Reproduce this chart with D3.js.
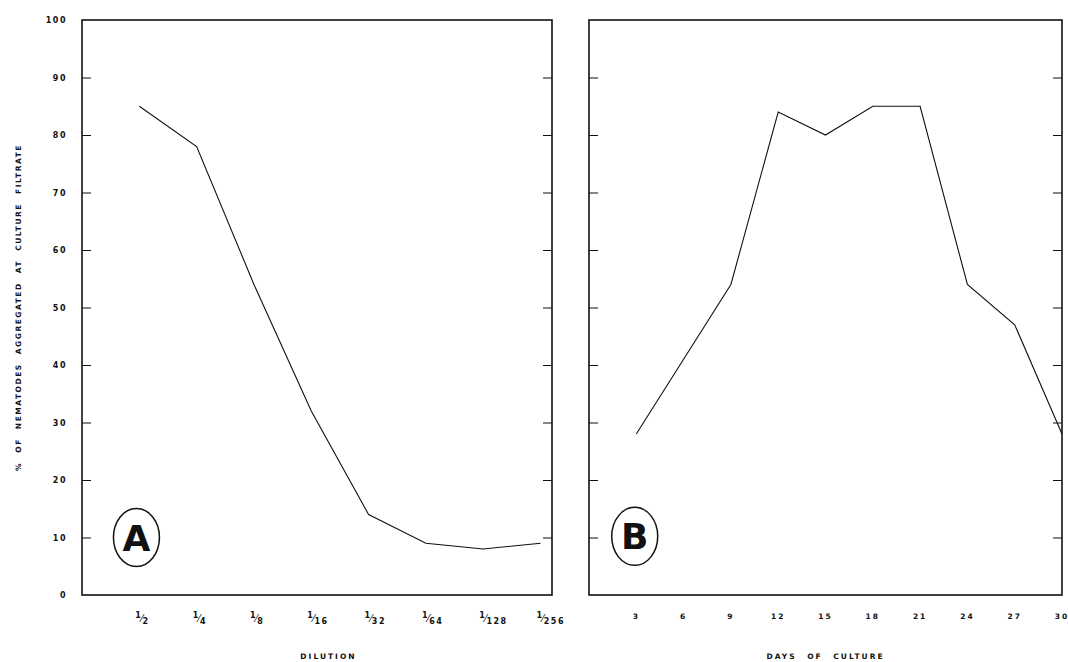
<!DOCTYPE html>
<meta charset="utf-8">
<head>
  <script src="https://d3js.org/d3.v7.min.js"></script>
  <style>
    body { margin: 0; background: #fff; }
    text { font-family: "DejaVu Sans", sans-serif; font-weight: bold; fill: #111; }
    .frame { fill: none; stroke: #111; stroke-width: 1.6px; }
    .curve { fill: none; stroke: #111; stroke-width: 1.1px; }
    .tick line { stroke: #111; stroke-width: 1px; }
    .domain { display: none; }
  </style>
</head>
<body>
<div id="viz"></div>
<script>
  // values
  var dilutionDen = [2, 4, 8, 16, 32, 64, 128, 256];
  var dilutionPct = [85, 78, 54, 32, 14, 9, 8, 9];

  var cultureDays = [3, 6, 9, 12, 15, 18, 21, 24, 27, 30];
  var culturePct = [28, 41, 54, 84, 80, 85, 85, 54, 47, 28];

  var yTicks = [0, 10, 20, 30, 40, 50, 60, 70, 80, 90, 100];

  var config = { width: 1068, height: 662, top: 20, bottom: 595 };

  var svg = d3.select("#viz").append("svg")
    .attr("width", config.width)
    .attr("height", config.height);

  var y = d3.scaleLinear().domain([0, 100]).range([config.bottom, config.top]);

  // ---- panel A ----
  var xA = d3.scaleLinear().domain([0, 8.2]).range([82, 552]);
  var gA = svg.append("g");

  gA.append("rect").attr("class", "frame")
    .attr("x", xA(0)).attr("y", y(100))
    .attr("width", xA(8.2) - xA(0)).attr("height", y(0) - y(100));

  gA.append("g").attr("transform", "translate(" + xA(0) + ",0)")
    .call(d3.axisLeft(y).tickValues(yTicks.slice(1, 10)).tickSizeInner(-9).tickFormat(""));
  gA.append("g").attr("transform", "translate(" + xA(8.2) + ",0)")
    .call(d3.axisRight(y).tickValues(yTicks.slice(1, 10)).tickSizeInner(-9).tickFormat(""));

  // y tick labels (left of panel A)
  gA.selectAll(".ylab").data(yTicks).enter().append("text")
    .attr("class", "ylab")
    .attr("x", 67).attr("y", function(d) { return y(d) + 3; })
    .attr("text-anchor", "end").attr("font-size", 8).attr("letter-spacing", 1.5)
    .text(function(d) { return d; });

  gA.append("path").attr("class", "curve")
    .datum(dilutionPct)
    .attr("d", d3.line().x(function(d, i) { return xA(i + 1); }).y(function(d) { return y(d); }));

  // fraction labels
  var frac = gA.selectAll(".frac").data(dilutionDen).enter().append("text")
    .attr("class", "frac")
    .attr("x", function(d, i) { return xA(i + 1) - 4; })
    .attr("y", 622).attr("font-size", 8);
  frac.append("tspan").attr("dy", -4).text("1");
  frac.append("tspan").attr("dy", 4).attr("font-weight", "normal").attr("font-size", 10).text("⁄");
  frac.append("tspan").attr("dy", 2).attr("letter-spacing", 1.5).text(function(d) { return d; });

  gA.append("text").attr("x", xA(4.3)).attr("y", 659)
    .attr("text-anchor", "middle").attr("font-size", 7.5).attr("letter-spacing", 2)
    .text("DILUTION");

  // ---- panel B ----
  var xB = d3.scaleLinear().domain([0, 30]).range([589, 1062]);
  var gB = svg.append("g");

  gB.append("rect").attr("class", "frame")
    .attr("x", xB(0)).attr("y", y(100))
    .attr("width", xB(30) - xB(0)).attr("height", y(0) - y(100));

  gB.append("g").attr("transform", "translate(" + xB(0) + ",0)")
    .call(d3.axisLeft(y).tickValues(yTicks.slice(1, 10)).tickSizeInner(-9).tickFormat(""));
  gB.append("g").attr("transform", "translate(" + xB(30) + ",0)")
    .call(d3.axisRight(y).tickValues(yTicks.slice(1, 10)).tickSizeInner(-9).tickFormat(""));

  gB.append("path").attr("class", "curve")
    .datum(cultureDays.map(function(d, i) { return [d, culturePct[i]]; }))
    .attr("d", d3.line().x(function(d) { return xB(d[0]); }).y(function(d) { return y(d[1]); }));

  gB.selectAll(".day").data(cultureDays).enter().append("text")
    .attr("class", "day")
    .attr("x", function(d) { return xB(d); }).attr("y", 619)
    .attr("text-anchor", "middle").attr("font-size", 7.5).attr("letter-spacing", 2)
    .text(function(d) { return d; });

  gB.append("text").attr("x", xB(15)).attr("y", 659)
    .attr("text-anchor", "middle").attr("font-size", 7.5).attr("letter-spacing", 2)
    .attr("word-spacing", 6)
    .text("DAYS OF CULTURE");

  // y axis title
  svg.append("text")
    .attr("transform", "translate(21," + y(50) + ") rotate(-90)")
    .attr("text-anchor", "middle").attr("font-size", 7.5).attr("letter-spacing", 1.5)
    .attr("word-spacing", 5)
    .text("% OF NEMATODES AGGREGATED AT CULTURE FILTRATE");

  // circled panel letters
  var badges = [{ label: "A", x: xA(0.95), y: y(10) }, { label: "B", x: xB(2.9), y: y(10.2) }];
  badges.forEach(function(b) {
    svg.append("ellipse").attr("cx", b.x).attr("cy", b.y)
      .attr("rx", 23).attr("ry", 29)
      .attr("fill", "none").attr("stroke", "#111").attr("stroke-width", 1.5);
    svg.append("text").attr("x", b.x).attr("y", b.y + 13)
      .attr("text-anchor", "middle").attr("font-size", 36)
      .attr("font-family", "Liberation Sans, sans-serif")
      .text(b.label);
  });
</script>
</body>
